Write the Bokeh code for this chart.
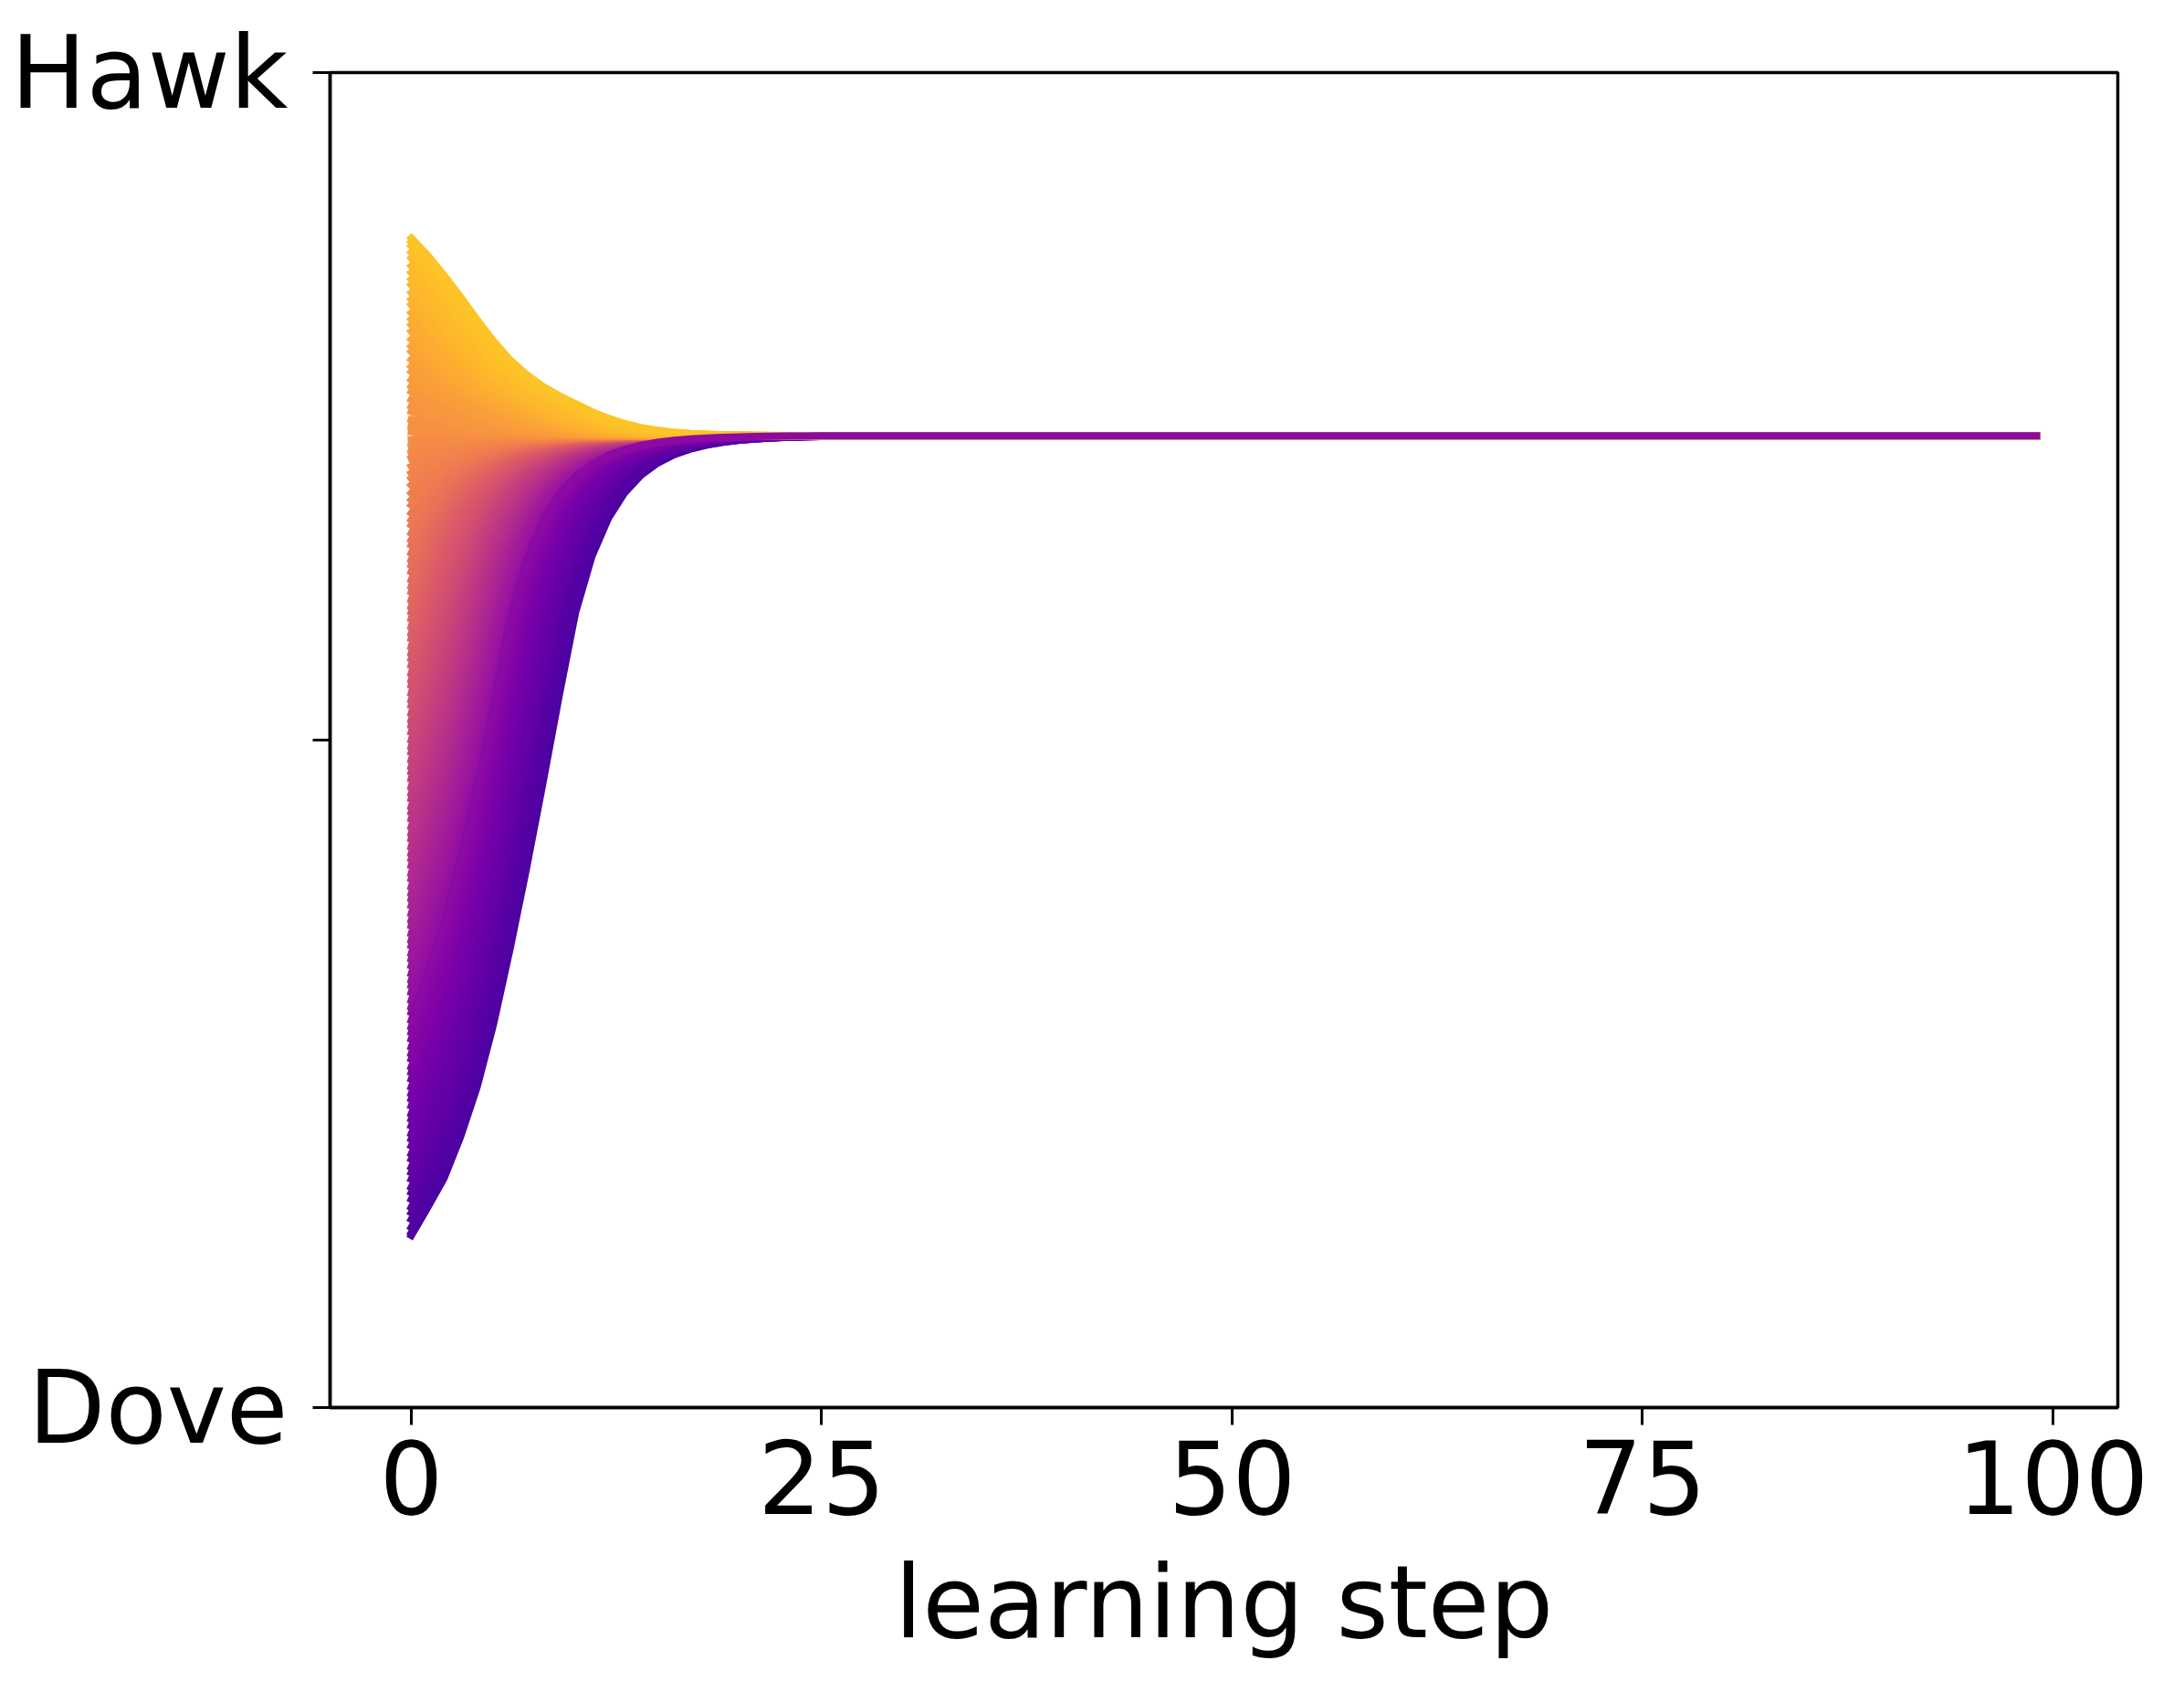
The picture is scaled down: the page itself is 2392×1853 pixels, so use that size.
import numpy as np
from bokeh.plotting import figure
from bokeh.models import Range1d, FixedTicker
from bokeh.palettes import Plasma256
from bokeh.embed import file_html
from bokeh.resources import INLINE

# ---- data -------------------------------------------------------------
n_steps = 100
# run read along the upper envelope (starts Hawk-ish, falls to equilibrium)
top_steps = list(range(26))
top_curve = [0.876, 0.863, 0.848, 0.832, 0.815, 0.799, 0.785, 0.774, 0.765, 0.758,
             0.752, 0.746, 0.741, 0.737, 0.734, 0.732, 0.7306, 0.7297, 0.7291, 0.7287,
             0.7285, 0.7283, 0.7282, 0.7281, 0.72805, 0.728]
# run read along the lower envelope (starts Dove-ish, rises to equilibrium)
bottom_steps = list(range(29))
bottom_curve = [0.129, 0.150, 0.172, 0.203, 0.240, 0.287, 0.343, 0.403, 0.467, 0.533,
                0.589, 0.633, 0.664, 0.684, 0.697, 0.706, 0.7127, 0.7176, 0.7211, 0.7229,
                0.7240, 0.7252, 0.7261, 0.7267, 0.7272, 0.7275, 0.7277, 0.7279, 0.728]
equilibrium = 0.728
# initial strategies (left edge of the fan)
initial_values = [
    0.129, 0.131, 0.135, 0.141, 0.146, 0.150, 0.156, 0.161, 0.165, 0.171,
    0.176, 0.180, 0.186, 0.190, 0.196, 0.201, 0.205, 0.211, 0.216, 0.220,
    0.226, 0.231, 0.235, 0.240, 0.246, 0.251, 0.255, 0.261, 0.265, 0.270,
    0.276, 0.281, 0.285, 0.296, 0.300, 0.305, 0.311, 0.316, 0.320,
    0.325, 0.331, 0.336, 0.340, 0.346, 0.350, 0.355, 0.361, 0.365, 0.370,
    0.376, 0.381, 0.385, 0.390, 0.396, 0.400, 0.406, 0.411, 0.415, 0.420,
    0.426, 0.430, 0.435, 0.441, 0.446, 0.450, 0.456, 0.460, 0.465, 0.471,
    0.476, 0.480, 0.485, 0.491, 0.495, 0.500, 0.506, 0.511, 0.515, 0.520,
    0.526, 0.530, 0.535, 0.541, 0.545, 0.550, 0.556, 0.561, 0.565, 0.570,
    0.576, 0.580, 0.585, 0.591, 0.596, 0.600, 0.605, 0.611, 0.615, 0.620,
    0.626, 0.631, 0.635, 0.640, 0.646, 0.650, 0.655, 0.661, 0.665, 0.670,
    0.676, 0.680, 0.685, 0.691, 0.696, 0.700, 0.705, 0.711, 0.715, 0.720,
    0.725, 0.731, 0.735, 0.740, 0.746, 0.750, 0.755, 0.761, 0.765, 0.770,
    0.776, 0.780, 0.785, 0.791, 0.795, 0.800, 0.806, 0.811, 0.815, 0.820,
    0.826, 0.830, 0.835, 0.841, 0.845, 0.850, 0.855, 0.861, 0.865, 0.870,
    0.873, 0.876,
    0.290,  # the run drawn last (its colour shows on the converged line)
]
x_ticks = [0, 25, 50, 75, 100]
y_ticks = [0, 0.5, 1]
y_tick_labels = {0: "Dove", 0.5: "", 1: "Hawk"}
x_label = "learning step"

# ---- build each run from the envelope it follows -------------------------
def logit(v):
    v = np.asarray(v, dtype=float)
    return np.log(v / (1 - v))

def expit(v):
    return 1.0 / (1.0 + np.exp(-v))

steps = np.arange(n_steps)
ts_top = np.array(top_steps, dtype=float)
tc_top = np.array(top_curve)
Lb = logit(bottom_curve)
Le = float(logit(equilibrium))
# early (unhindered) per-step progress of the lower envelope, in logit space
free_inc = np.diff(Lb)[:9]
# late-phase relaxation rate of the lower envelope towards equilibrium
Db = Le - Lb
relax = float(np.mean((Lb[11:18] - Lb[10:17]) / Db[10:17]))

xs, ys, colors = [], [], []
for y0 in initial_values:
    if y0 >= equilibrium:
        t0 = np.interp(y0, tc_top[::-1], ts_top[::-1])
        yy = np.interp(t0 + steps, ts_top, tc_top, right=equilibrium)
    else:
        L = float(logit(y0))
        path = [L]
        for t in range(n_steps - 1):
            inc = free_inc[min(t, len(free_inc) - 1)]
            L = L + min(inc, relax * (Le - L))
            path.append(L)
        yy = expit(np.array(path))
    xs.append(steps.tolist())
    ys.append(yy.tolist())
    colors.append(Plasma256[min(int(y0 * 256), 255)])

# ---- figure ----------------------------------------------------------------
FONT = "DejaVu Sans"
p = figure(width=2376, height=1853,
           x_range=Range1d(-4.95, 103.95), y_range=Range1d(0, 1),
           output_backend="svg", toolbar_location=None,
           min_border_left=361, min_border_right=57,
           min_border_top=79, min_border_bottom=312)
p.background_fill_color = "white"
p.border_fill_color = "white"
p.xgrid.visible = False
p.ygrid.visible = False
p.outline_line_color = "black"
p.outline_line_width = 3.5

p.multi_line(xs=xs, ys=ys, line_color=colors, line_width=8,
             line_cap="square", line_join="round")

for ax in (p.xaxis[0], p.yaxis[0]):
    ax.axis_line_color = "black"
    ax.axis_line_width = 3.5
    ax.major_tick_line_color = "black"
    ax.major_tick_line_width = 3
    ax.major_tick_in = 0
    ax.major_tick_out = 19
    ax.minor_tick_line_color = None
    ax.major_label_text_font = FONT
    ax.major_label_text_font_size = "110px"
    ax.major_label_text_color = "black"

p.xaxis.ticker = FixedTicker(ticks=x_ticks)
p.yaxis.ticker = FixedTicker(ticks=y_ticks)
p.yaxis.major_label_overrides = y_tick_labels
p.yaxis.major_label_standoff = 27
p.xaxis.major_label_standoff = 16

p.xaxis.axis_label = x_label
p.xaxis.axis_label_text_font = FONT
p.xaxis.axis_label_text_font_size = "110px"
p.xaxis.axis_label_text_font_style = "normal"
p.xaxis.axis_label_text_color = "black"
p.xaxis.axis_label_standoff = 30

open("out.html", "w").write(file_html(p, INLINE))
